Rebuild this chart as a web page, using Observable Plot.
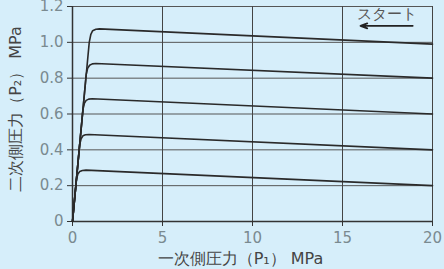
<!DOCTYPE html>
<html><head><meta charset="utf-8">
<script src="https://cdn.jsdelivr.net/npm/d3@7"></script>
<script src="https://cdn.jsdelivr.net/npm/@observablehq/plot@0.6"></script>
<style>
html,body{margin:0;padding:0;background:#d6eefa;overflow:hidden;}
</style>
</head><body><div id="chart"></div>
<script>
// Secondary pressure curves (P2) vs primary pressure (P1), MPa
const curve1X = [0, 0.93, 1.02, 1.12, 1.3, 1.5, 20];
const curve1Y = [0, 1.0, 1.045, 1.065, 1.073, 1.075, 0.99];
const curve2X = [0, 0.76, 0.84, 0.95, 1.1, 1.3, 20];
const curve2Y = [0, 0.82, 0.855, 0.872, 0.88, 0.882, 0.80];
const curve3X = [0, 0.58, 0.66, 0.76, 0.9, 1.1, 20];
const curve3Y = [0, 0.625, 0.66, 0.676, 0.683, 0.685, 0.60];
const curve4X = [0, 0.4, 0.48, 0.58, 0.72, 0.92, 20];
const curve4Y = [0, 0.43, 0.462, 0.478, 0.484, 0.486, 0.40];
const curve5X = [0, 0.22, 0.3, 0.4, 0.55, 0.75, 20];
const curve5Y = [0, 0.235, 0.265, 0.279, 0.285, 0.287, 0.20];

const xTicks = [0, 5, 10, 15, 20];
const yTicks = [0, 0.2, 0.4, 0.6, 0.8, 1.0, 1.2];
const yTickLabels = ["0", "0.2", "0.4", "0.6", "0.8", "1.0", "1.2"];
const xLabel = "一次側圧力（P₁） MPa";
const yLabel = "二次側圧力（P₂） MPa";
const startLabel = "スタート";
const arrowFrom = [18.9, 1.092];
const arrowTo = [16.0, 1.092];
const startPos = [17.45, 1.155];

const series = [
  [curve1X, curve1Y], [curve2X, curve2Y], [curve3X, curve3Y],
  [curve4X, curve4Y], [curve5X, curve5Y]
];
const lineData = series.flatMap(([xs, ys], i) => xs.map((x, j) => ({x, y: ys[j], s: i})));

const chart = Plot.plot({
  width: 444,
  height: 269,
  marginLeft: 72,
  marginRight: 12,
  marginTop: 6,
  marginBottom: 48,
  style: {background: "#d6eefa", fontFamily: "'DejaVu Sans', sans-serif", overflow: "hidden"},
  x: {domain: [0, 20], ticks: xTicks},
  y: {domain: [0, 1.2], ticks: yTicks},
  marks: [
    Plot.ruleY(yTicks.filter(d => d > 0), {stroke: "#555", strokeWidth: 1}),
    Plot.ruleX(xTicks.filter(d => d > 0), {stroke: "#444", strokeWidth: 1}),
    Plot.axisX({ticks: xTicks, tickSize: 5, tickPadding: 6, fontSize: 15, fill: "#7a8a90", stroke: "#333", label: null, tickFormat: d => String(d)}),
    Plot.axisY({ticks: yTicks, tickSize: 5, tickPadding: 4, fontSize: 15, fill: "#7a8a90", stroke: "#333", label: null, tickFormat: (d, i) => yTickLabels[i]}),
    Plot.ruleY([0], {stroke: "#333", strokeWidth: 1.5}),
    Plot.ruleX([0], {stroke: "#333", strokeWidth: 1.5}),
    Plot.line(lineData, {x: "x", y: "y", z: "s", stroke: "#2a2a2a", strokeWidth: 1.6, curve: "linear"}),
    Plot.arrow([{x1: arrowFrom[0], y1: arrowFrom[1], x2: arrowTo[0], y2: arrowTo[1]}], {x1: "x1", y1: "y1", x2: "x2", y2: "y2", stroke: "#222", strokeWidth: 1.8, headLength: 6, headAngle: 40}),
    Plot.text([startLabel], {x: startPos[0], y: startPos[1], text: d => d, fontSize: 15, fill: "#555"}),
    Plot.text([xLabel], {frameAnchor: "bottom", textAnchor: "middle", dx: -12, dy: 42, text: d => d, fontSize: 16, fill: "#444"}),
    Plot.text([yLabel], {frameAnchor: "left", textAnchor: "middle", dx: -57, dy: -5, rotate: -90, text: d => d, fontSize: 16, fill: "#444"})
  ]
});
document.getElementById("chart").appendChild(chart);
</script>
</body></html>
